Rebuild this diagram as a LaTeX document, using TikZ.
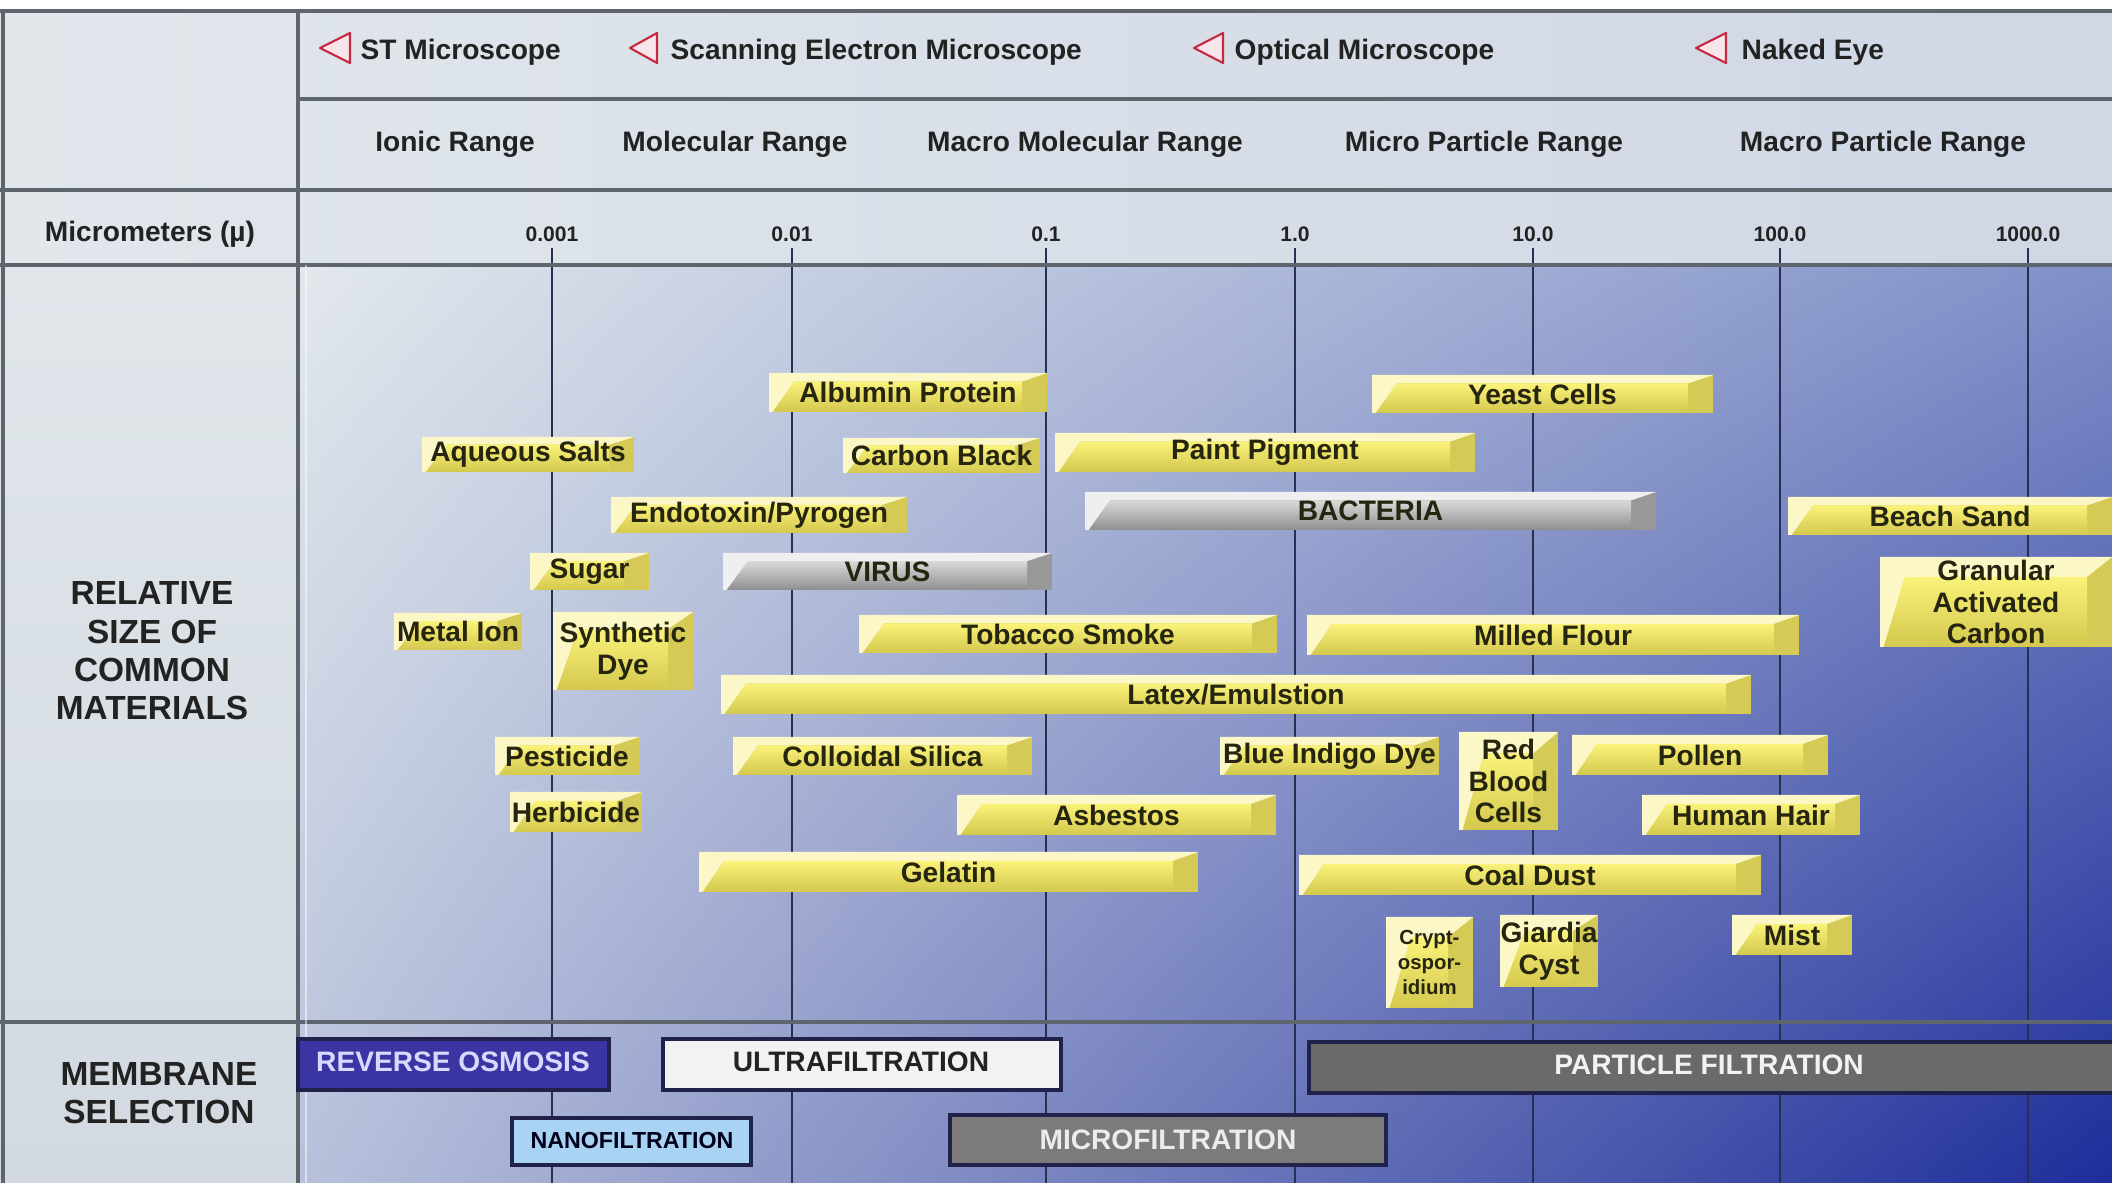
\documentclass[tikz,border=0pt]{standalone}
\usepackage{fontspec}
\setmainfont{Liberation Sans}
\usepackage{tikz}
\usetikzlibrary{shadings}

\definecolor{frameline}{HTML}{5E656C}
\definecolor{gridrule}{HTML}{283052}
\definecolor{headbg}{HTML}{E1E7EB}
\definecolor{headbgr}{HTML}{D0D7E5}
\definecolor{sidebg}{HTML}{E0E6EA}
\definecolor{sidebgb}{HTML}{D2D9E1}
\definecolor{mainUL}{HTML}{E2E8EC}
\definecolor{mainUR}{HTML}{8090C8}
\definecolor{mainLL}{HTML}{B8C1DB}
\definecolor{mainLR}{HTML}{1E2D9A}
\definecolor{inkdark}{HTML}{222222}
\definecolor{barink}{HTML}{26250F}
\definecolor{scopered}{HTML}{C42A40}
\definecolor{scopepink}{HTML}{F6E6EA}
\definecolor{ybEdge}{HTML}{D5CA56}
\definecolor{ybLight}{HTML}{FCF7C6}
\definecolor{ybFace}{HTML}{FAF27A}
\definecolor{ybDark}{HTML}{D4C84E}
\definecolor{gbEdge}{HTML}{989898}
\definecolor{gbLight}{HTML}{EFEFEF}
\definecolor{gbFace}{HTML}{DADADA}
\definecolor{gbDark}{HTML}{8E8E8E}
\definecolor{memrim}{HTML}{20224C}
\definecolor{rofill}{HTML}{3B34A3}
\definecolor{ufill}{HTML}{F2F2F2}
\definecolor{nfill}{HTML}{A9D3F3}
\definecolor{mffill}{HTML}{7B7B7B}
\definecolor{pffill}{HTML}{6A6A6A}

% palette, name, x0, y0, x1, y1, text
\newcommand{\sizebar}[7][yb]{%
  \pgfmathsetmacro{\bd}{min(25,0.3*(#5-#3))}%
  \pgfmathsetmacro{\bt}{0.22*(#6-#4)}%
  \fill[#1Edge] (#3,#4) rectangle (#5,#6);
  \fill[#1Light] (#3,#4) -- (#5,#4) -- (#5-\bd,#4+\bt) -- (#3+\bd,#4+\bt)
    -- (#3+0.15*\bd,#6) -- (#3,#6) -- cycle;
  \shade[top color=#1Face, bottom color=#1Dark] (#3+\bd,#4+\bt) -- (#5-\bd,#4+\bt)
    -- (#5-\bd,#6) -- (#3+0.15*\bd,#6) -- cycle;
  \node[bartext] (#2) at ({(#3+#5)/2},{(#4+#6)/2}) {#7};
}

\begin{document}
\begin{tikzpicture}[x=0.01cm,y=-0.01cm]
    \tikzset{
        every node/.style={font=\bfseries\fontsize{8}{9}\selectfont, text=inkdark, inner sep=0pt},
        sidetext/.style={font=\bfseries\fontsize{9.5}{10.9}\selectfont, align=center},
        ticktext/.style={font=\bfseries\fontsize{6}{7}\selectfont},
        bartext/.style={align=center, text=barink},
        rulerline/.style={frameline, line width=1.1pt},
        gridline/.style={gridrule, line width=0.7pt},
        scopemark/.style={draw=scopered, fill=scopepink, line width=0.6pt, line join=round},
        membox/.style={draw=memrim, line width=0.9pt}
    }
    \useasboundingbox (0,0) rectangle (2112,1183);

    \fill[white] (0,0) rectangle (2112,11);
    \shade[left color=headbg, right color=headbgr] (0,11) rectangle (2112,265);
    \shade[top color=sidebg, bottom color=sidebgb] (0,265) rectangle (298,1183);
    \shade[upper left=mainUL, upper right=mainUR, lower left=mainLL, lower right=mainLR]
        (298,265) rectangle (2112,1183);

    % scale
    \foreach \x/\lab [count=\i] in {552/0.001, 792/0.01, 1046/0.1, 1295/1.0, 1533/10.0, 1780/100.0, 2028/1000.0}{
        \node[ticktext] (tick\i) at (\x,234) {\lab};
        \draw[gridline] (\x,248) -- (\x,1183);
    }

    \draw[rulerline] (0,11) -- (2112,11);
    \draw[rulerline] (298,99) -- (2112,99);
    \draw[rulerline] (0,190) -- (2112,190);
    \draw[rulerline] (0,265) -- (2112,265);
    \draw[rulerline] (0,1022) -- (2112,1022);
    \draw[rulerline] (3,11) -- (3,1183);
    \draw[rulerline] (298,11) -- (298,1183);
    \draw[white, opacity=0.5, line width=0.8pt] (306,265) -- (306,1183);

    % microscopes
    \draw[scopemark] (320,48) -- (350,33) -- (350,63) -- cycle;
    \node[anchor=west] (stm) at (360,52) {ST Microscope};
    \draw[scopemark] (630,48) -- (657,33) -- (657,63) -- cycle;
    \node[anchor=west] (sem) at (670,52) {Scanning Electron Microscope};
    \draw[scopemark] (1194,48) -- (1223,33) -- (1223,63) -- cycle;
    \node[anchor=west] (optical) at (1234,52) {Optical Microscope};
    \draw[scopemark] (1696,48) -- (1726,33) -- (1726,63) -- cycle;
    \node[anchor=west] (eye) at (1741,52) {Naked Eye};

    % ranges
    \node (ionic) at (455,144) {Ionic Range};
    \node (molecular) at (735,144) {Molecular Range};
    \node (macromol) at (1085,144) {Macro Molecular Range};
    \node (microp) at (1484,144) {Micro Particle Range};
    \node (macrop) at (1883,144) {Macro Particle Range};

    \node (unit) at (150,234) {Micrometers (µ)};
    \node[sidetext] (relsize) at (152,651) {RELATIVE\\SIZE OF\\COMMON\\MATERIALS};
    \node[sidetext] (memsel) at (159,1093) {MEMBRANE\\SELECTION};

    % materials
    \sizebar{albumin}{769}{373}{1047}{412}{Albumin Protein}
    \sizebar{yeast}{1372}{375}{1713}{413}{Yeast Cells}
    \sizebar{salts}{422}{437}{634}{472}{Aqueous Salts}
    \sizebar{carbonblack}{843}{438}{1040}{473}{Carbon Black}
    \sizebar{paint}{1055}{433}{1475}{472}{Paint Pigment}
    \sizebar{endotoxin}{611}{497}{907}{533}{Endotoxin/Pyrogen}
    \sizebar[gb]{bacteria}{1085}{492}{1656}{530}{BACTERIA}
    \sizebar{sand}{1788}{497}{2112}{535}{Beach Sand}
    \sizebar{sugar}{530}{553}{649}{590}{Sugar}
    \sizebar[gb]{virus}{723}{553}{1052}{590}{VIRUS}
    \sizebar{gac}{1880}{557}{2112}{647}{Granular\\Activated\\Carbon}
    \sizebar{metalion}{394}{613}{522}{650}{Metal Ion}
    \sizebar{dye}{553}{612}{693}{690}{Synthetic\\Dye}
    \sizebar{tobacco}{859}{615}{1277}{653}{Tobacco Smoke}
    \sizebar{flour}{1307}{615}{1799}{655}{Milled Flour}
    \sizebar{latex}{721}{675}{1751}{714}{Latex/Emulstion}
    \sizebar{pesticide}{495}{737}{639}{775}{Pesticide}
    \sizebar{silica}{733}{737}{1032}{775}{Colloidal Silica}
    \sizebar{indigo}{1220}{737}{1439}{775}{Blue Indigo Dye}
    \sizebar{rbc}{1459}{732}{1558}{830}{Red\\Blood\\Cells}
    \sizebar{pollen}{1572}{735}{1828}{775}{Pollen}
    \sizebar{herbicide}{510}{792}{642}{832}{Herbicide}
    \sizebar{asbestos}{957}{795}{1276}{835}{Asbestos}
    \sizebar{hair}{1642}{795}{1860}{835}{Human Hair}
    \sizebar{gelatin}{699}{852}{1198}{892}{Gelatin}
    \sizebar{coaldust}{1299}{855}{1761}{895}{Coal Dust}
    \begin{scope}[bartext/.append style={font=\bfseries\fontsize{5.8}{7.2}\selectfont}]
        \sizebar{crypto}{1386}{917}{1473}{1008}{Crypt-\\ospor-\\idium}
    \end{scope}
    \sizebar{giardia}{1500}{915}{1598}{987}{Giardia\\Cyst}
    \sizebar{mist}{1732}{915}{1852}{955}{Mist}

    % membranes
    \draw[membox, fill=rofill] (298,1039) rectangle (609,1090);
    \node[text=white!85!blue] (ro) at (453,1062) {REVERSE OSMOSIS};
    \draw[membox, fill=ufill] (663,1039) rectangle (1061,1090);
    \node (uf) at (861,1062) {ULTRAFILTRATION};
    \draw[membox, fill=nfill] (512,1118) rectangle (751,1165);
    \node[font=\bfseries\fontsize{6.6}{8}\selectfont, text=black!90!blue] (nf) at (632,1141) {NANOFILTRATION};
    \draw[membox, fill=mffill] (950,1115) rectangle (1386,1165);
    \node[text=white!85!gray] (mf) at (1168,1140) {MICROFILTRATION};
    \draw[membox, fill=pffill] (1309,1042) rectangle (2120,1093);
    \node[text=white!90!gray] (pf) at (1709,1065) {PARTICLE FILTRATION};
\end{tikzpicture}
\end{document}
